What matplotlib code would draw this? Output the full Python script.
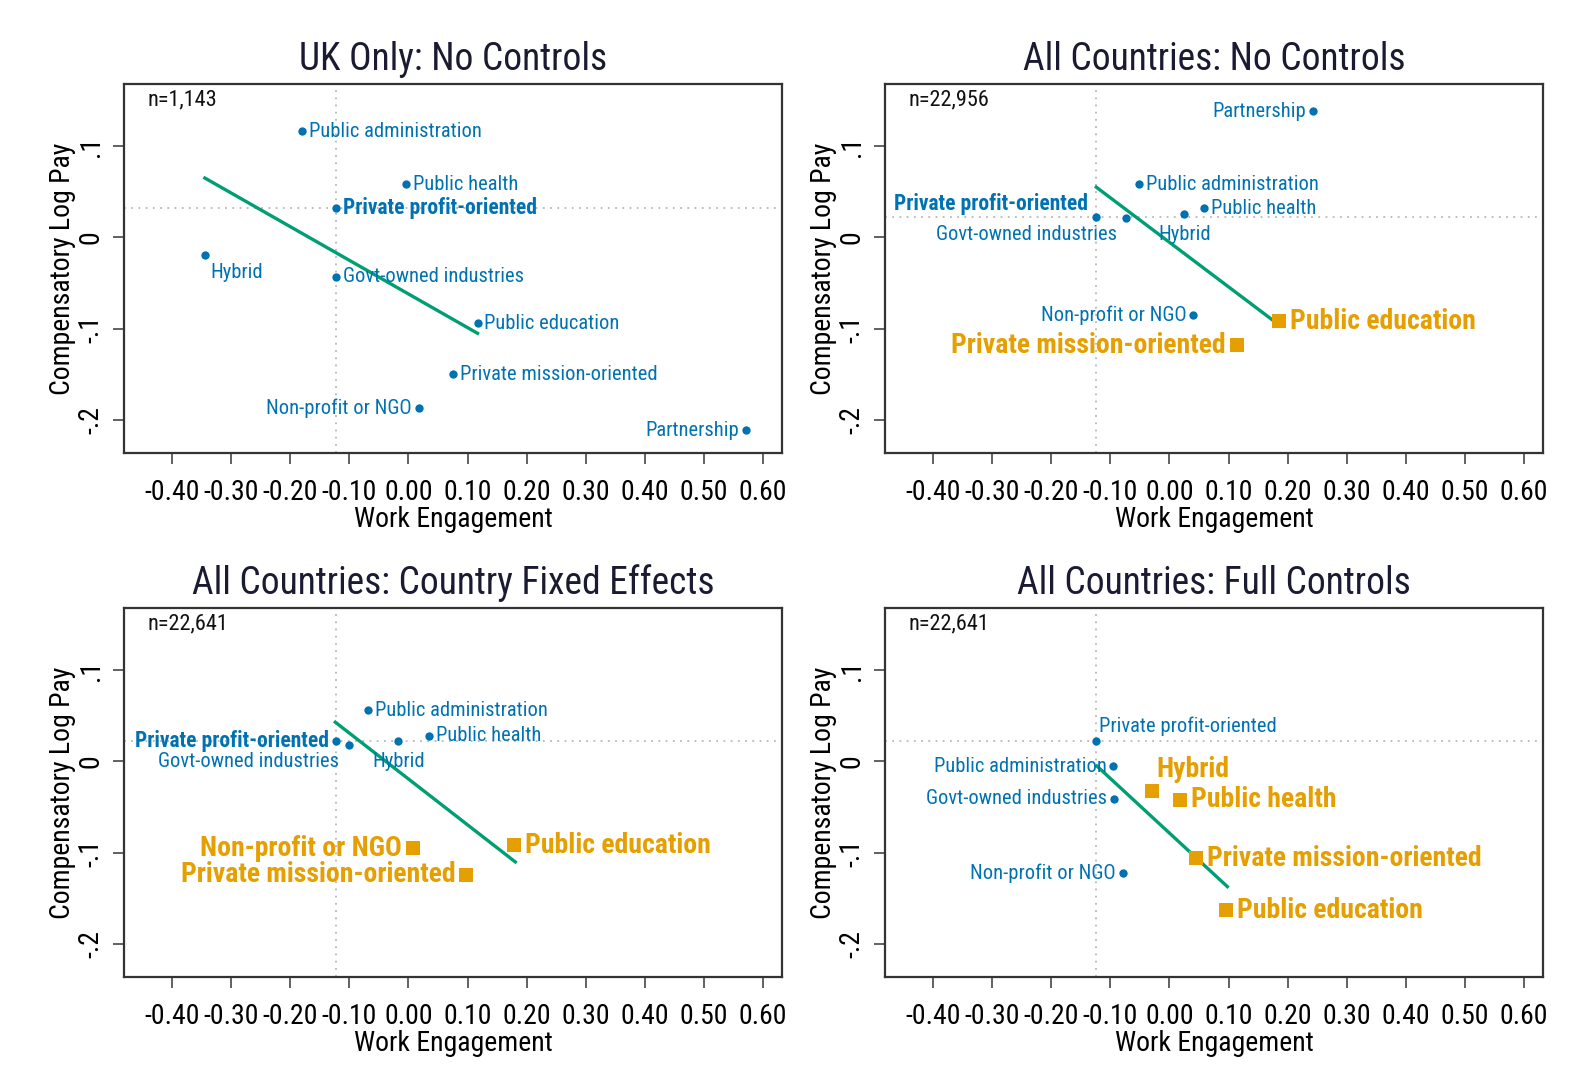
import numpy as np
import matplotlib
matplotlib.use("Agg")
import matplotlib.pyplot as plt
from matplotlib import font_manager

# sector categories, same order in every panel
sectors = ["Private profit-oriented", "Public administration", "Public health",
           "Public education", "Govt-owned industries", "Hybrid",
           "Private mission-oriented", "Non-profit or NGO", "Partnership"]

titles = ["UK Only: No Controls", "All Countries: No Controls",
          "All Countries: Country Fixed Effects", "All Countries: Full Controls"]
n_labels = ["n=1,143", "n=22,956", "n=22,641", "n=22,641"]

# work engagement (x) and compensatory log pay (y) by sector
uk_none_x = [-0.123, -0.181, -0.004, 0.117, -0.123, -0.345, 0.076, 0.017, 0.572]
uk_none_y = [0.032, 0.116, 0.058, -0.094, -0.043, -0.019, -0.150, -0.187, -0.211]
all_none_x = [-0.124, -0.052, 0.059, 0.186, -0.073, 0.025, 0.114, 0.040, 0.243]
all_none_y = [0.022, 0.058, 0.032, -0.092, 0.021, 0.026, -0.118, -0.085, 0.138]
all_fe_x = [-0.123, -0.069, 0.035, 0.179, -0.101, -0.017, 0.098, 0.008, np.nan]
all_fe_y = [0.022, 0.056, 0.028, -0.092, 0.018, 0.022, -0.124, -0.095, np.nan]
all_full_x = [-0.124, -0.095, 0.017, 0.095, -0.094, -0.029, 0.045, -0.079, np.nan]
all_full_y = [0.022, -0.005, -0.042, -0.163, -0.041, -0.032, -0.106, -0.122, np.nan]

# sectors that stand out (drawn as orange squares)
uk_none_flag = []
all_none_flag = ["Public education", "Private mission-oriented"]
all_fe_flag = ["Public education", "Private mission-oriented", "Non-profit or NGO"]
all_full_flag = ["Public education", "Private mission-oriented", "Public health", "Hybrid"]

# fitted line end points
uk_none_fit_x = [-0.345, 0.117]
uk_none_fit_y = [0.065, -0.105]
all_none_fit_x = [-0.124, 0.186]
all_none_fit_y = [0.055, -0.096]
all_fe_fit_x = [-0.124, 0.181]
all_fe_fit_y = [0.043, -0.110]
all_full_fit_x = [-0.123, 0.098]
all_full_fit_y = [-0.005, -0.137]

xticks = [-0.4, -0.3, -0.2, -0.1, 0.0, 0.1, 0.2, 0.3, 0.4, 0.5, 0.6]
yticks = [0.1, 0.0, -0.1, -0.2]
ytick_labels = [".1", "0", "-.1", "-.2"]

# label clock positions (stata style) per panel
uk_none_pos = [3, 3, 3, 3, 3, 4, 3, 9, 9]
all_none_pos = [11, 3, 3, 3, 7, 6, 9, 9, 9]
all_fe_pos = [9, 3, 3, 3, 7, 6, 9, 9, None]
all_full_pos = [1, 9, 3, 3, 9, 1, 3, 9, None]

CLOCK = {3: (5, 0, "left", "center"), 9: (-5, 0, "right", "center"),
         6: (0, -8, "center", "top"), 4: (4, -6, "left", "top"),
         7: (-7, -5, "right", "top"), 11: (-6, 2, "right", "bottom"),
         1: (2, 4, "left", "bottom")}

BLUE = "#0072B2"
ORANGE = "#E69F00"
GREEN = "#009E73"


def pick_narrow():
    # look for a condensed / narrow sans face, fall back to Liberation Sans
    prefs = ["Liberation Sans Narrow", "Arial Narrow", "Roboto Condensed",
             "Open Sans Condensed", "DejaVu Sans Condensed", "Noto Sans Condensed"]
    ttf = font_manager.fontManager.ttflist
    for p in prefs:
        for f in ttf:
            if f.name == p:
                return f.name, "normal", 1.0
    for f in ttf:
        st = str(f.stretch).lower()
        if "condensed" in st and f.name in ("DejaVu Sans", "Noto Sans", "Open Sans", "Roboto", "Liberation Sans"):
            return f.name, f.stretch, 1.0
    for f in ttf:
        low = (f.name + f.fname).lower()
        if ("narrow" in low or "condensed" in low) and "mono" not in low and "serif" not in low:
            return f.name, f.stretch, 1.0
    return "Liberation Sans", "normal", 0.86


FAMILY, STRETCH, SCALE = pick_narrow()
plt.rcParams["font.family"] = [FAMILY, "DejaVu Sans"]
plt.rcParams["font.stretch"] = STRETCH


def fs(v):
    return v * SCALE


fig = plt.figure(figsize=(15.72, 10.92), dpi=100)
boxes = [(0.0789, 0.5852, 0.4186, 0.3379), (0.5630, 0.5852, 0.4186, 0.3379),
         (0.0789, 0.1053, 0.4186, 0.3379), (0.5630, 0.1053, 0.4186, 0.3379)]

panels = [(uk_none_x, uk_none_y, uk_none_flag, uk_none_fit_x, uk_none_fit_y, uk_none_pos, True),
          (all_none_x, all_none_y, all_none_flag, all_none_fit_x, all_none_fit_y, all_none_pos, True),
          (all_fe_x, all_fe_y, all_fe_flag, all_fe_fit_x, all_fe_fit_y, all_fe_pos, True),
          (all_full_x, all_full_y, all_full_flag, all_full_fit_x, all_full_fit_y, all_full_pos, False)]

for k, (xs, ys, flag, fx, fy, pos, bold_base) in enumerate(panels):
    ax = fig.add_axes(boxes[k])
    ax.set_xlim(-0.482, 0.633)
    ax.set_ylim(-0.236, 0.168)

    # reference lines through the private profit-oriented sector
    ax.axvline(xs[0], color="#b8b8b8", ls=(0, (1, 3)), lw=1.3, zorder=1)
    ax.axhline(ys[0], color="#b8b8b8", ls=(0, (1, 3)), lw=1.3, zorder=1)

    for i, name in enumerate(sectors):
        if np.isnan(xs[i]):
            continue
        hot = name in flag
        if hot:
            ax.scatter(xs[i], ys[i], marker="s", s=110, color=ORANGE, zorder=3, linewidths=0)
        else:
            ax.scatter(xs[i], ys[i], marker="o", s=36, color=BLUE, zorder=3, linewidths=0)
        dx, dy, ha, va = CLOCK[pos[i]]
        if hot:
            dx = dx * 1.6
            dy = dy * 1.3
        base = i == 0 and bold_base
        weight = "bold" if (hot or base) else "normal"
        size = 20 if hot else (15.5 if base else 14.8)
        ax.annotate(name, (xs[i], ys[i]), xytext=(dx, dy), textcoords="offset points",
                    ha=ha, va=va, fontsize=fs(size), fontweight=weight,
                    color=ORANGE if hot else BLUE, zorder=4)

    ax.plot(fx, fy, color=GREEN, lw=2.4, zorder=2)

    ax.text(0.035, 0.985, n_labels[k], transform=ax.transAxes, ha="left", va="top",
            fontsize=fs(16), color="#111111")

    ax.set_xticks(xticks)
    ax.set_xticklabels([f"{t:.2f}" for t in xticks])
    ax.set_yticks(yticks)
    ax.set_yticklabels(ytick_labels, rotation=90, va="center")
    ax.tick_params(direction="out", length=8, width=1.3, color="#555555",
                   labelsize=fs(20))
    ax.tick_params(axis="x", pad=11)
    ax.tick_params(axis="y", pad=6)
    for sp in ax.spines.values():
        sp.set_color("#333333")
        sp.set_linewidth(1.6)
    ax.set_xlabel("Work Engagement", fontsize=fs(20), labelpad=0)
    ax.set_ylabel("Compensatory Log Pay", fontsize=fs(20), labelpad=1)
    ax.set_title(titles[k], fontsize=fs(27), color="#1a1a33", pad=10)

fig.savefig("out.png", dpi=100)
